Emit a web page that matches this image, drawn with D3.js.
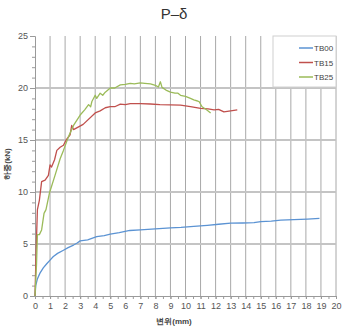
<!DOCTYPE html>
<html><head><meta charset="utf-8">
<script src="https://cdn.jsdelivr.net/npm/d3@7"></script>
<style>body{margin:0;background:#fff}svg{display:block}text{font-family:"Liberation Sans","DejaVu Sans",sans-serif}</style>
</head><body><svg id="c" width="342" height="330"></svg>
<script>
const seriesNames = ["TB00","TB15","TB25"];
const colors = ["#5b93d3","#c0504d","#9bbb59"];
const tb00X = [0,0.05,0.15,0.33,0.55,0.78,1.0,1.22,1.5,1.89,2.2,2.56,2.8,3.0,3.5,4.1,4.6,5.0,5.6,6.3,7.0,8.0,9.0,9.7,10.55,11.45,12.2,13.0,13.8,14.55,15.0,15.7,16.33,17.2,18.1,18.9];
const tb00Y = [0,1.0,1.6,2.2,2.7,3.1,3.45,3.8,4.1,4.4,4.65,4.9,5.1,5.3,5.4,5.7,5.8,5.95,6.1,6.3,6.35,6.45,6.55,6.6,6.7,6.8,6.9,7.0,7.02,7.05,7.15,7.2,7.3,7.35,7.4,7.47];
const tb15X = [0,0.05,0.11,0.16,0.29,0.44,0.67,0.89,1.0,1.1,1.3,1.45,1.67,1.89,2.07,2.33,2.44,2.56,3.2,4.0,4.33,4.67,5.0,5.3,5.67,6.0,6.33,7.0,7.67,8.3,9.0,9.67,10.33,11.0,11.5,11.9,12.2,12.55,13.0,13.44];
const tb15Y = [0,3,6.0,8.3,9.2,11.0,11.15,11.6,12.6,12.4,13.1,14.0,14.3,14.5,15.0,15.5,16.4,16.0,16.5,17.6,17.8,18.1,18.2,18.2,18.45,18.4,18.5,18.5,18.46,18.4,18.37,18.35,18.2,18.05,18.0,17.9,17.95,17.7,17.8,17.9];
const tb25X = [0,0.1,0.16,0.29,0.44,0.6,0.73,0.96,1.33,1.67,1.89,2.22,2.56,3.0,3.3,3.56,3.7,3.78,4.0,4.1,4.33,4.5,4.67,5.0,5.3,5.67,6.0,6.33,6.6,7.0,7.3,7.67,8.0,8.2,8.33,8.44,8.7,9.0,9.3,9.5,9.67,10.0,10.33,10.55,10.8,10.9,11.1,11.4,11.67];
const tb25Y = [0,3,5.9,5.9,6.35,7.95,8.3,9.9,11.6,13.2,14.0,15.3,16.4,17.4,17.9,18.4,18.2,18.7,19.3,19.0,19.5,19.3,19.6,20.0,20.0,20.3,20.35,20.45,20.4,20.5,20.45,20.4,20.25,20.1,20.6,20.06,19.8,19.6,19.5,19.5,19.3,19.2,19.0,18.85,18.75,18.7,18.2,17.9,17.6];
const xTicks = d3.range(0,21,1);
const yTicks = [0,5,10,15,20,25];
const title = "P–δ", xLabel = "변위(mm)", yLabel = "하중(kN)";

const series = [[tb00X,tb00Y],[tb15X,tb15Y],[tb25X,tb25Y]].map(([xs,ys])=>xs.map((x,i)=>[x,ys[i]]));
const svg = d3.select("#c");
const x = d3.scaleLinear().domain([0,20]).range([35,336]);
const y = d3.scaleLinear().domain([0,25]).range([296,36]);

svg.append("g").selectAll("line").data(xTicks.slice(1)).join("line")
 .attr("x1",d=>x(d)).attr("x2",d=>x(d)).attr("y1",y(0)).attr("y2",y(25))
 .attr("stroke","#a8a8a8").attr("stroke-width",1);
svg.append("g").selectAll("line").data(yTicks.slice(1,5)).join("line")
 .attr("x1",x(0)).attr("x2",x(20)).attr("y1",d=>y(d)).attr("y2",d=>y(d))
 .attr("stroke","#c4c4c4").attr("stroke-width",1.8);

const yAx = svg.append("g").attr("transform",`translate(${x(0)},0)`)
 .call(d3.axisLeft(y).tickValues(d3.range(0,26,1)).tickSize(3).tickFormat(""));
yAx.selectAll("line,path").attr("stroke","#9a9a9a");
const yAx2 = svg.append("g").attr("transform",`translate(${x(0)},0)`)
 .call(d3.axisLeft(y).tickValues(yTicks).tickSize(5).tickPadding(2).tickFormat(d3.format("d")));
yAx2.selectAll("line,path").attr("stroke","#9a9a9a");
yAx2.select(".domain").remove();
yAx2.selectAll("text").attr("font-size",9).attr("fill","#555");

const xAx = svg.append("g").attr("transform",`translate(0,${y(0)})`)
 .call(d3.axisBottom(x).tickValues(d3.range(0,20.01,0.5)).tickSize(3).tickFormat(""));
xAx.selectAll("line,path").attr("stroke","#9a9a9a");
const xAx2 = svg.append("g").attr("transform",`translate(0,${y(0)})`)
 .call(d3.axisBottom(x).tickValues(xTicks).tickSize(3).tickPadding(4).tickFormat(d3.format("d")));
xAx2.selectAll("line,path").attr("stroke","#9a9a9a");
xAx2.select(".domain").remove();
xAx2.selectAll("text").attr("font-size",9).attr("fill","#555");

const line = d3.line().x(d=>x(d[0])).y(d=>y(d[1]));
series.forEach((s,i)=>{
 svg.append("path").datum(s).attr("d",line).attr("fill","none")
  .attr("stroke",colors[i]).attr("stroke-width",1.3).attr("stroke-linejoin","round");
});

const lg = svg.append("g");
lg.append("rect").attr("x",273).attr("y",36).attr("width",63).attr("height",51)
 .attr("fill","#fff").attr("stroke","#d0d0d0").attr("stroke-width",1);
seriesNames.forEach((n,i)=>{
 const yy = 48 + i*14.5;
 lg.append("line").attr("x1",299).attr("x2",313).attr("y1",yy).attr("y2",yy)
  .attr("stroke",colors[i]).attr("stroke-width",1.5);
 lg.append("text").attr("x",314).attr("y",yy+3).attr("font-size",8).attr("fill","#444").text(n);
});

svg.append("text").attr("x",174).attr("y",19).attr("text-anchor","middle")
 .attr("font-size",15).attr("fill","#333").text(title);
svg.append("text").attr("x",174).attr("y",324).attr("text-anchor","middle")
 .attr("font-size",8).attr("font-weight","bold").attr("fill","#444").text(xLabel);
svg.append("text").attr("transform","translate(10,164) rotate(-90)").attr("text-anchor","middle")
 .attr("font-size",8).attr("font-weight","bold").attr("fill","#444").text(yLabel);
</script></body></html>
